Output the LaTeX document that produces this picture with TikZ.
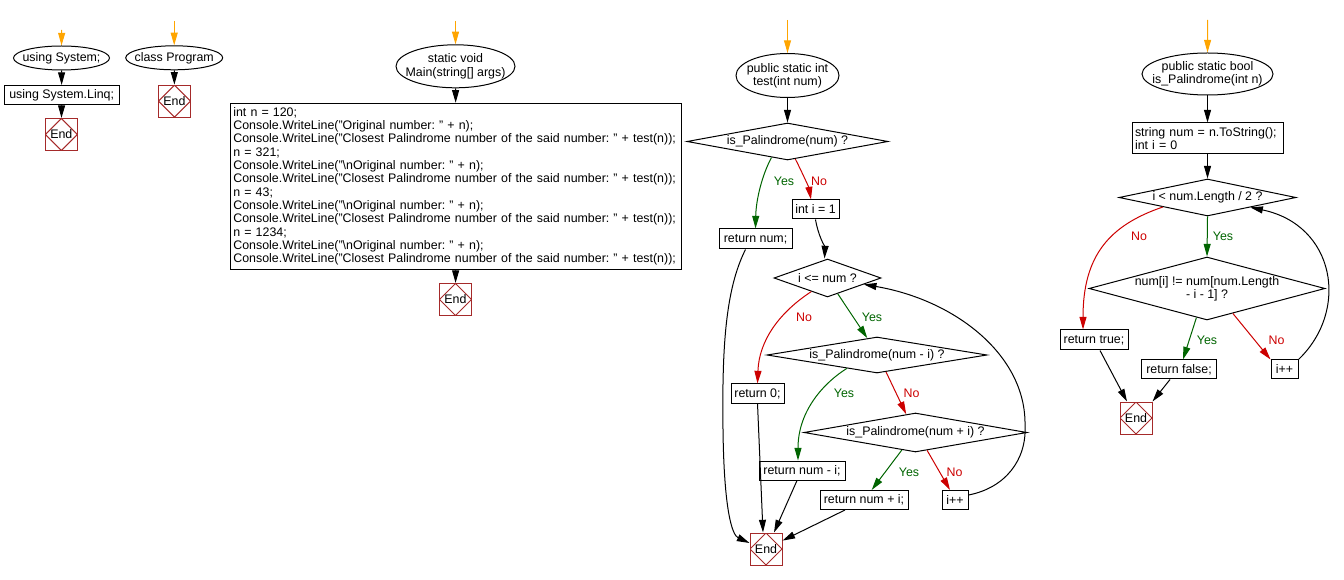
\documentclass[tikz,border=0pt]{standalone}
\usepackage{fontspec}
\setmainfont{Liberation Sans}
\usetikzlibrary{shapes.geometric,arrows.meta}
\definecolor{endred}{RGB}{165,42,42}
\definecolor{flowor}{RGB}{255,165,0}
\definecolor{yesgreen}{RGB}{0,100,0}
\definecolor{nored}{RGB}{204,0,0}
\begin{document}
\begin{tikzpicture}[x=0.75pt,y=-0.75pt,
  every node/.style={font=\frenchspacing\fontsize{9.3}{10}\selectfont},
  every label/.style={font=\frenchspacing\fontsize{9.3}{10}\selectfont, inner sep=0pt},
  termell/.style={ellipse, draw, line width=0.75pt, inner sep=0pt},
  procbox/.style={rectangle, draw, line width=0.75pt, inner sep=0pt},
  decdia/.style={diamond, draw, line width=0.75pt, inner sep=0pt, aspect=4},
  endbox/.style={rectangle, draw=endred, line width=0.75pt, minimum size=24pt, inner sep=0pt,
    path picture={\draw[endred, line width=0.75pt] (path picture bounding box.north) -- (path picture bounding box.east) -- (path picture bounding box.south) -- (path picture bounding box.west) -- cycle;}},
  flow/.style={draw, line width=0.75pt, -{Triangle[length=9.5pt,width=5.25pt]}},
  startflow/.style={flow, draw=flowor},
  yesflow/.style={flow, draw=yesgreen},
  noflow/.style={flow, draw=nored},
  yeslab/.style={text=yesgreen, inner sep=0pt},
  nolab/.style={text=nored, inner sep=0pt}
]
\useasboundingbox (0,0) rectangle (1344,580);

% ---------- column 1
\coordinate (s1) at (61.7,30);
\node[termell, minimum width=72pt, minimum height=18pt, label=center:{using System;}] (e1) at (61.5,58) {};
\node[procbox, minimum width=86.25pt, minimum height=14.25pt] (b1) at (61.7,95) {using System.Linq;};
\node[endbox] (end1) at (61.3,134.5) {End};
\draw[startflow] (s1) -- (e1.north);
\draw[flow] (e1) -- (b1);
\draw[flow] (b1) -- (end1);

% ---------- column 2
\coordinate (s2) at (174.2,21);
\node[termell, minimum width=72.75pt, minimum height=18pt, label=center:{class Program}] (e2) at (174.2,57.8) {};
\node[endbox] (end2) at (174.5,101.2) {End};
\draw[startflow] (s2) -- (e2.north);
\draw[flow] (e2) -- (end2);

% ---------- Main
\coordinate (s3) at (455.5,21);
\node[termell, minimum width=89.25pt, minimum height=32.25pt, label={[align=center]center:{static void\\Main(string[] args)}}] (e3) at (455.5,66.3) {};
\node[procbox, text width=334pt, minimum height=124.5pt, align=left, inner sep=2.25pt] (b3) at (456,186.3) {int n = 120;\\
Console.WriteLine("Original number: " + n);\\
Console.WriteLine("Closest Palindrome number of the said number: " + test(n));\\
n = 321;\\
Console.WriteLine("\textbackslash nOriginal number: " + n);\\
Console.WriteLine("Closest Palindrome number of the said number: " + test(n));\\
n = 43;\\
Console.WriteLine("\textbackslash nOriginal number: " + n);\\
Console.WriteLine("Closest Palindrome number of the said number: " + test(n));\\
n = 1234;\\
Console.WriteLine("\textbackslash nOriginal number: " + n);\\
Console.WriteLine("Closest Palindrome number of the said number: " + test(n));};
\node[endbox] (end3) at (455.5,299.5) {End};
\draw[startflow] (s3) -- (e3.north);
\draw[flow] (e3) -- (b3);
\draw[flow] (b3) -- (end3);

% ---------- test
\coordinate (s4) at (787.5,20);
\node[termell, minimum width=77.25pt, minimum height=33pt, label={[align=center]center:{public static int\\test(int num)}}] (e4) at (787.5,75.5) {};
\node[decdia, minimum width=150.75pt, minimum height=27.75pt, label=center:{is\_Palindrome(num) ?}] (d1) at (787.5,141.5) {};
\node[procbox, minimum width=35.25pt, minimum height=14.25pt] (ii) at (815.5,209.5) {int i = 1};
\node[procbox, minimum width=54.75pt, minimum height=15pt] (rn) at (755.5,239) {return num;};
\node[decdia, minimum width=80.25pt, minimum height=28.5pt, label=center:{i <= num ?}] (d2) at (827.5,278) {};
\node[decdia, minimum width=165pt, minimum height=27pt, label=center:{is\_Palindrome(num - i) ?}] (d3) at (877,355) {};
\node[procbox, minimum width=39.75pt, minimum height=14.25pt] (r0) at (757.5,393.5) {return 0;};
\node[decdia, minimum width=167.25pt, minimum height=29.25pt, label=center:{is\_Palindrome(num + i) ?}] (d4) at (915.5,432.5) {};
\node[procbox, minimum width=64.5pt, minimum height=14.25pt] (rmi) at (802,470.5) {return num - i;};
\node[procbox, minimum width=66pt, minimum height=14.25pt] (rpi) at (864,500) {return num + i;};
\node[procbox, minimum width=19.5pt, minimum height=14.25pt] (ipp) at (955,500) {i++};
\node[endbox] (end4) at (766,549) {End};

\draw[startflow] (s4) -- (e4.north);
\draw[flow] (e4) -- (d1);
\draw[yesflow] (d1.225) .. controls (762,175) and (756,200) .. (rn.north);
\draw[noflow] (d1.294) .. controls (802,172) and (809,188) .. ([xshift=-3.4pt]ii.north);
\draw[flow] (ii.south) .. controls (818,235) and (825,248) .. ([xshift=-2.25pt]d2.north);
\draw[yesflow] (d2.303) -- (d3.120);
\draw[noflow] (d2.220) .. controls (780,312) and (759,340) .. (r0.north);
\draw[yesflow] (d3.204) .. controls (825,382) and (798,410) .. ([xshift=-3pt]rmi.north);
\draw[noflow] (d3.298) -- (d4.117);
\draw[yesflow] (d4.232) -- ([xshift=5.75pt]rpi.north);
\draw[noflow] (d4.303) -- ([xshift=-3.75pt]ipp.north);
\draw[flow] ([yshift=3.75pt]ipp.east) .. controls (1005,488) and (1027,460) .. (1025,425) .. controls (1026,355) and (955,300) .. (d2.350);
\draw[flow] ([xshift=-7.5pt]rn.south) .. controls (725,290) and (722,350) .. (723,430) .. controls (724,510) and (732,535) .. (end4.160);
\draw[flow] (r0.south) -- ([xshift=-2.25pt]end4.north);
\draw[flow] ([xshift=-3.75pt]rmi.south) -- ([xshift=6pt]end4.north);
\draw[flow] ([xshift=-14.25pt]rpi.south) -- (end4.27);

\node[yeslab] (l1) at (784,181.5) {Yes};
\node[nolab] (l2) at (819,181.5) {No};
\node[nolab] (l3) at (804,317) {No};
\node[yeslab] (l4) at (872,317) {Yes};
\node[yeslab] (l5) at (844,393) {Yes};
\node[nolab] (l6) at (911.5,393) {No};
\node[yeslab] (l7) at (909,472) {Yes};
\node[nolab] (l8) at (954.5,472) {No};

% ---------- is_Palindrome
\coordinate (s5) at (1207.7,20);
\node[termell, minimum width=98.25pt, minimum height=31.5pt, label={[align=center]center:{public static bool\\is\_Palindrome(int n)}}] (e5) at (1207.5,74) {};
\node[procbox, text width=108.75pt, minimum height=23.25pt, align=left, inner sep=2.25pt] (b5) at (1207.5,138.5) {string num = n.ToString();\\int i = 0};
\node[decdia, minimum width=132.75pt, minimum height=27.75pt, label=center:{i < num.Length / 2 ?}] (d5) at (1207.5,197.5) {};
\node[decdia, minimum width=177pt, minimum height=47.25pt, label={[align=center]center:{num[i] != num[num.Length\\- i - 1] ?}}] (d6) at (1207,288.5) {};
\node[procbox, minimum width=51pt, minimum height=15pt] (rt) at (1094,340) {return true;};
\node[procbox, minimum width=56.25pt, minimum height=14.25pt] (rf) at (1179,369.5) {return false;};
\node[procbox, minimum width=20.25pt, minimum height=14.25pt] (ip2) at (1284.5,369.5) {i++};
\node[endbox] (end5) at (1136,418) {End};

\draw[startflow] (s5) -- (e5.north);
\draw[flow] (e5) -- (b5);
\draw[flow] (b5) -- (d5);
\draw[yesflow] (d5.south) -- (d6.north);
\draw[noflow] (d5.192) .. controls (1110,225) and (1083,255) .. ([xshift=-8.25pt]rt.north);
\draw[yesflow] (d6.250) -- ([xshift=3pt]rf.north);
\draw[noflow] (d6.316) -- (ip2.north west);
\draw[flow] (ip2.north east) .. controls (1350,310) and (1335,225) .. (d5.347);
\draw[flow] ([xshift=4.5pt]rt.south) -- ([xshift=-6.75pt]end5.north);
\draw[flow] ([xshift=-6.75pt]rf.south) -- (end5.north east);

\node[yeslab] (l9) at (1223,236.7) {Yes};
\node[nolab] (l10) at (1139,236.7) {No};
\node[yeslab] (l11) at (1207,340) {Yes};
\node[nolab] (l12) at (1276.5,340) {No};
\end{tikzpicture}
\end{document}
